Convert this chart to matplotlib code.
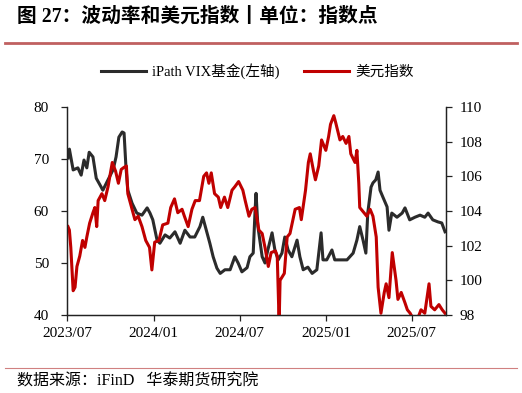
import matplotlib
matplotlib.use('Agg')
import matplotlib.pyplot as plt
import matplotlib.dates as mdates
from matplotlib.lines import Line2D
import pandas as pd

# iPath VIX fund (left axis)
vix_dates = [
    '2023-07-03', '2023-07-06', '2023-07-14', '2023-07-24', '2023-07-31',
    '2023-08-06', '2023-08-12', '2023-08-17', '2023-08-25', '2023-09-01',
    '2023-09-09', '2023-09-15', '2023-09-26', '2023-10-07', '2023-10-13',
    '2023-10-19', '2023-10-26', '2023-10-30', '2023-11-03', '2023-11-07',
    '2023-11-16', '2023-11-26', '2023-12-07', '2023-12-18', '2023-12-24',
    '2023-12-30', '2024-01-08', '2024-01-14', '2024-01-25', '2024-02-04',
    '2024-02-15', '2024-02-26', '2024-03-07', '2024-03-18', '2024-03-28',
    '2024-04-08', '2024-04-14', '2024-04-23', '2024-04-29', '2024-05-06',
    '2024-05-14', '2024-05-21', '2024-05-31', '2024-06-11', '2024-06-21',
    '2024-06-28', '2024-07-06', '2024-07-17', '2024-07-23', '2024-07-30',
    '2024-08-03', '2024-08-05', '2024-08-09', '2024-08-18', '2024-08-24',
    '2024-08-30', '2024-09-08', '2024-09-14', '2024-09-21', '2024-09-29',
    '2024-10-05', '2024-10-12', '2024-10-20', '2024-10-31', '2024-11-06',
    '2024-11-13', '2024-11-23', '2024-12-02', '2024-12-12', '2024-12-21',
    '2024-12-25', '2025-01-02', '2025-01-13', '2025-01-19', '2025-01-30',
    '2025-02-14', '2025-02-27', '2025-03-07', '2025-03-13', '2025-03-20',
    '2025-03-26', '2025-03-30', '2025-04-06', '2025-04-10', '2025-04-16',
    '2025-04-21', '2025-04-25', '2025-05-01', '2025-05-10', '2025-05-14',
    '2025-05-20', '2025-05-31', '2025-06-11', '2025-06-17', '2025-06-27',
    '2025-07-08', '2025-07-19', '2025-07-29', '2025-08-05', '2025-08-15',
    '2025-08-26', '2025-09-03', '2025-09-10',
]
vix_values = [
    70.2, 71.9, 67.9, 68.3, 66.9,
    69.8, 68.3, 71.3, 70.4, 66.3,
    65.0, 64.0, 66.0, 68.0, 70.4,
    74.2, 75.2, 75.0, 68.5, 64.0,
    61.5, 59.6, 59.2, 60.6, 59.6,
    58.3, 54.4, 53.8, 55.4, 54.8,
    56.0, 53.8, 56.3, 55.0, 55.0,
    57.0, 58.8, 55.8, 53.8, 51.2,
    49.0, 48.0, 48.7, 48.7, 51.2,
    50.0, 48.3, 49.1, 51.2, 51.9,
    60.2, 63.4, 57.0, 51.2, 50.0,
    52.5, 55.8, 52.5, 50.6, 51.9,
    55.0, 52.5, 51.2, 54.4, 51.2,
    48.7, 49.2, 48.0, 48.7, 55.8,
    50.6, 50.6, 52.5, 50.6, 50.6,
    50.6, 51.9, 54.4, 57.0, 54.4,
    51.9, 59.6, 64.6, 65.4, 66.0,
    67.5, 64.0, 62.7, 60.8, 56.3,
    59.6, 58.8, 59.6, 60.6, 58.3,
    58.8, 59.2, 58.8, 59.6, 58.3,
    57.9, 57.7, 56.0,
]

# US dollar index (right axis)
dxy_dates = [
    '2023-07-03', '2023-07-06', '2023-07-09', '2023-07-14', '2023-07-18',
    '2023-07-22', '2023-07-28', '2023-08-03', '2023-08-08', '2023-08-12',
    '2023-08-18', '2023-08-25', '2023-08-29', '2023-09-02', '2023-09-05',
    '2023-09-13', '2023-09-19', '2023-09-26', '2023-10-05', '2023-10-12',
    '2023-10-18', '2023-10-24', '2023-10-29', '2023-11-04', '2023-11-07',
    '2023-11-16', '2023-11-22', '2023-11-29', '2023-12-07', '2023-12-15',
    '2023-12-23', '2023-12-28', '2024-01-03', '2024-01-12', '2024-01-20',
    '2024-01-31', '2024-02-06', '2024-02-14', '2024-02-21', '2024-03-01',
    '2024-03-06', '2024-03-14', '2024-03-22', '2024-03-29', '2024-04-07',
    '2024-04-16', '2024-04-22', '2024-04-27', '2024-05-02', '2024-05-09',
    '2024-05-17', '2024-05-22', '2024-05-30', '2024-06-06', '2024-06-15',
    '2024-06-21', '2024-06-29', '2024-07-08', '2024-07-13', '2024-07-21',
    '2024-07-27', '2024-08-03', '2024-08-11', '2024-08-18', '2024-08-24',
    '2024-08-31', '2024-09-06', '2024-09-15', '2024-09-19', '2024-09-23',
    '2024-09-25', '2024-10-04', '2024-10-10', '2024-10-16', '2024-10-27',
    '2024-11-05', '2024-11-09', '2024-11-18', '2024-11-24', '2024-11-28',
    '2024-12-05', '2024-12-09', '2024-12-16', '2024-12-22', '2024-12-31',
    '2025-01-06', '2025-01-10', '2025-01-17', '2025-01-21', '2025-01-30',
    '2025-02-05', '2025-02-12', '2025-02-18', '2025-02-22', '2025-03-03',
    '2025-03-07', '2025-03-11', '2025-03-13', '2025-03-22', '2025-03-28',
    '2025-04-04', '2025-04-10', '2025-04-17', '2025-04-21', '2025-04-27',
    '2025-05-04', '2025-05-08', '2025-05-14', '2025-05-21', '2025-05-29',
    '2025-06-02', '2025-06-09', '2025-06-17', '2025-06-22', '2025-06-28',
    '2025-07-04', '2025-07-14', '2025-07-21', '2025-07-29', '2025-08-07',
    '2025-08-11', '2025-08-19', '2025-08-28', '2025-09-04', '2025-09-10',
]
dxy_values = [
    103.1, 102.9, 101.9, 99.4, 99.6,
    100.8, 101.4, 102.3, 101.9, 102.5,
    103.3, 103.9, 104.2, 103.1, 104.6,
    105.0, 104.6, 105.4, 106.8, 106.3,
    105.6, 106.4, 106.5, 106.6, 105.0,
    104.1, 103.5, 103.7, 103.1, 102.3,
    101.9, 100.6, 102.2, 102.3, 103.2,
    103.3, 104.2, 104.7, 103.9, 104.1,
    103.7, 103.1, 104.1, 104.6, 104.6,
    106.0, 106.2, 105.6, 106.2, 105.0,
    104.8, 104.2, 104.8, 104.2, 105.2,
    105.4, 105.7, 105.2, 104.6, 103.7,
    104.1, 104.2, 102.9, 102.7, 101.9,
    100.8, 101.6, 101.7, 101.4, 97.5,
    100.0, 100.4, 102.5, 102.7, 104.1,
    104.2, 103.5, 105.2, 106.8, 107.3,
    106.3, 105.8, 106.6, 108.1, 107.5,
    108.3, 109.0, 109.5, 109.1, 108.1,
    108.3, 107.9, 108.3, 107.3, 106.8,
    107.5, 105.6, 104.2, 103.9, 103.7,
    104.1, 103.7, 102.5, 99.6, 98.1,
    99.3, 99.8, 99.0, 101.6, 100.0,
    98.9, 99.3, 98.7, 98.3, 98.1,
    97.8, 97.8, 98.3, 98.1, 99.8,
    98.5, 98.3, 98.6, 98.3, 98.1,
]

left_ticks = [40, 50, 60, 70, 80]
right_ticks = [98, 100, 102, 104, 106, 108, 110]
x_ticks = ['2023-07-01', '2024-01-01', '2024-07-01', '2025-01-01', '2025-07-01']

BLACK = '#2b2b2b'
RED = '#c00000'
SERIF = ['Liberation Serif', 'Noto Sans CJK SC']


def main():
    fig = plt.figure(figsize=(5.22, 3.93), dpi=100)
    ax = fig.add_axes([0.1284, 0.1985, 0.726, 0.5292])
    ax2 = ax.twinx()

    ax.plot(pd.to_datetime(vix_dates), vix_values, color=BLACK, lw=2.2,
            solid_joinstyle='round')
    ax2.plot(pd.to_datetime(dxy_dates), dxy_values, color=RED, lw=2.2,
             solid_joinstyle='round')

    ax.set_ylim(40, 80)
    ax2.set_ylim(98, 110)
    ax.set_xlim(pd.Timestamp('2023-07-01'), pd.Timestamp('2025-09-12'))
    ax.set_yticks(left_ticks)
    ax2.set_yticks(right_ticks)
    ax.set_xticks(pd.to_datetime(x_ticks))
    ax.xaxis.set_major_formatter(mdates.DateFormatter('%Y/%m'))

    for a in (ax, ax2):
        a.spines['top'].set_visible(False)
        for s in a.spines.values():
            s.set_color('#222222')
            s.set_linewidth(0.9)
        a.tick_params(direction='out', length=4, width=0.9, color='#222222',
                      labelsize=11)
        for lbl in a.get_xticklabels() + a.get_yticklabels():
            lbl.set_family(SERIF)
    ax.tick_params(axis='y', pad=9)
    ax2.tick_params(axis='y', pad=6)
    ax.tick_params(axis='x', pad=5)

    handles = [Line2D([], [], color=BLACK, lw=2.2),
               Line2D([], [], color=RED, lw=2.2)]
    fig.legend(handles, ['iPath VIX基金(左轴)', '美元指数'], loc='center',
               bbox_to_anchor=(0.493, 0.819), ncol=2, frameon=False,
               handlelength=3.1, handletextpad=0.4, columnspacing=1.7,
               prop={'family': SERIF, 'size': 10.5})

    fig.text(0.033, 0.957, '图 27：波动率和美元指数丨单位：指数点',
             family=SERIF, weight='bold', fontsize=14.2, va='center')
    fig.add_artist(Line2D([0.01, 0.99], [0.891, 0.891], color='#c06060',
                          lw=2, transform=fig.transFigure))
    fig.add_artist(Line2D([0.01, 0.99], [0.064, 0.064], color='#d08080',
                          lw=0.8, transform=fig.transFigure))
    fig.text(0.033, 0.03, '数据来源：iFinD   华泰期货研究院',
             family=SERIF, fontsize=11.5, va='center')

    fig.savefig('out.png', dpi=100)


if __name__ == '__main__':
    main()
